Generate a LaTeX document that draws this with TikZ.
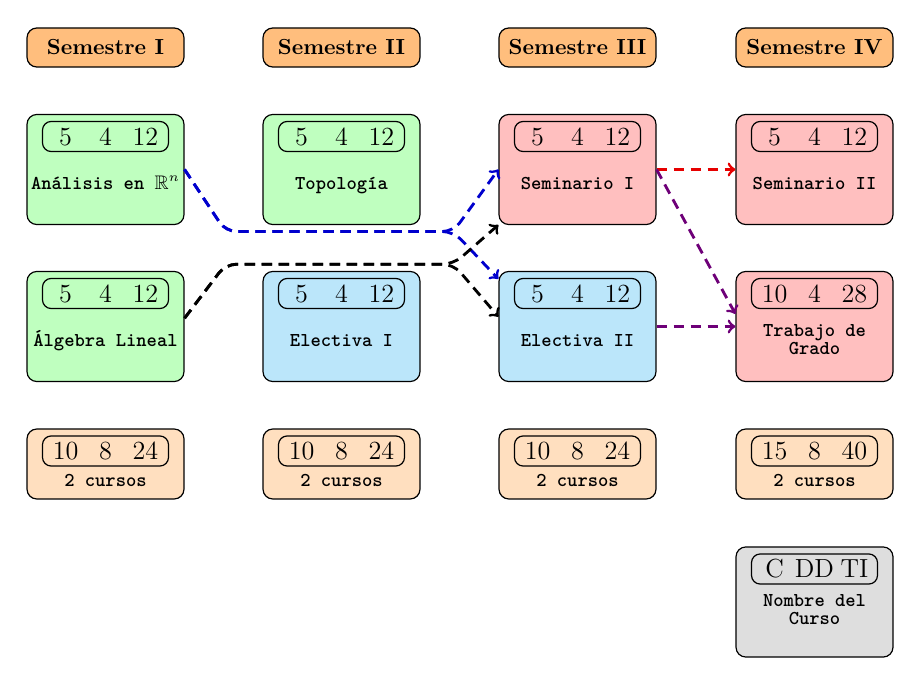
\documentclass[tikz,border=0pt]{standalone}
\usepackage{amssymb}
\usetikzlibrary{calc}
\definecolor{hdr}{RGB}{255,190,125}
\definecolor{grn}{RGB}{191,255,191}
\definecolor{pnk}{RGB}{255,191,191}
\definecolor{blu}{RGB}{187,230,250}
\definecolor{pch}{RGB}{255,223,191}
\definecolor{gry}{RGB}{222,222,222}
\definecolor{arrblue}{RGB}{0,0,205}
\definecolor{arrred}{RGB}{230,0,0}
\definecolor{arrpurple}{RGB}{110,0,120}
\newcommand\trio[3]{\makebox[18.3pt]{#1}\makebox[18.3pt]{#2}\makebox[18.3pt]{#3}}
\begin{document}
\begin{tikzpicture}[x=0.4587pt,y=-0.4587pt,
  box/.style={draw, line width=0.55pt, rounded corners=4.5pt, minimum width=72pt, inner sep=0pt},
  header/.style={box, fill=hdr, minimum height=17.9pt, font=\bfseries},
  course/.style={box, minimum height=50.5pt},
  credit/.style={box, fill=pch, minimum height=32.1pt},
  nums/.style={draw, line width=0.55pt, rounded corners=4pt, minimum width=57.8pt, minimum height=13.8pt, inner sep=0pt, font=\large},
  lbl/.style={font=\small\ttfamily\bfseries, align=center, inner sep=0pt},
  link/.style={->, line width=1.3pt, dash pattern=on 4.8pt off 3pt, rounded corners=5pt}]
\useasboundingbox (0,0) rectangle (921,679);

% headers
\node[header] (h1) at (105.5,47.5) {Semestre I};
\node[header] (h2) at (341.5,47.5) {Semestre II};
\node[header] (h3) at (577.5,47.5) {Semestre III};
\node[header] (h4) at (814.5,47.5) {Semestre IV};

% row 1
\node[course, fill=grn] (an) at (105.5,169.5) {};
\node[nums] (an-n) at ($(an.center)+(0,-33)$) {\trio{5}{4}{12}};
\node[lbl, anchor=mid] (an-t) at ($(an.center)+(0,15.5)$) {Análisis en $\mathbb{R}^n$};

\node[course, fill=grn] (to) at (341.5,169.5) {};
\node[nums] (to-n) at ($(to.center)+(0,-33)$) {\trio{5}{4}{12}};
\node[lbl, anchor=mid] (to-t) at ($(to.center)+(0,15.5)$) {Topología};

\node[course, fill=pnk] (s1) at (577.5,169.5) {};
\node[nums] (s1-n) at ($(s1.center)+(0,-33)$) {\trio{5}{4}{12}};
\node[lbl, anchor=mid] (s1-t) at ($(s1.center)+(0,15.5)$) {Seminario I};

\node[course, fill=pnk] (s2) at (814.5,169.5) {};
\node[nums] (s2-n) at ($(s2.center)+(0,-33)$) {\trio{5}{4}{12}};
\node[lbl, anchor=mid] (s2-t) at ($(s2.center)+(0,15.5)$) {Seminario II};

% row 2
\node[course, fill=grn] (al) at (105.5,326.5) {};
\node[nums] (al-n) at ($(al.center)+(0,-33)$) {\trio{5}{4}{12}};
\node[lbl, anchor=mid] (al-t) at ($(al.center)+(0,15.5)$) {Álgebra Lineal};

\node[course, fill=blu] (e1) at (341.5,326.5) {};
\node[nums] (e1-n) at ($(e1.center)+(0,-33)$) {\trio{5}{4}{12}};
\node[lbl, anchor=mid] (e1-t) at ($(e1.center)+(0,15.5)$) {Electiva I};

\node[course, fill=blu] (e2) at (577.5,326.5) {};
\node[nums] (e2-n) at ($(e2.center)+(0,-33)$) {\trio{5}{4}{12}};
\node[lbl, anchor=mid] (e2-t) at ($(e2.center)+(0,15.5)$) {Electiva II};

\node[course, fill=pnk] (tg) at (814.5,326.5) {};
\node[nums] (tg-n) at ($(tg.center)+(0,-33)$) {\trio{10}{4}{28}};
\node[lbl] (tg-t) at ($(tg.center)+(0,13)$) {Trabajo de\\[-2.8pt]Grado};

% credits row
\node[credit] (c1) at (105.5,464) {};
\node[nums] (c1-n) at ($(c1.center)+(0,-13)$) {\trio{10}{8}{24}};
\node[lbl, anchor=mid] (c1-t) at ($(c1.center)+(0,18)$) {2 cursos};

\node[credit] (c2) at (341.5,464) {};
\node[nums] (c2-n) at ($(c2.center)+(0,-13)$) {\trio{10}{8}{24}};
\node[lbl, anchor=mid] (c2-t) at ($(c2.center)+(0,18)$) {2 cursos};

\node[credit] (c3) at (577.5,464) {};
\node[nums] (c3-n) at ($(c3.center)+(0,-13)$) {\trio{10}{8}{24}};
\node[lbl, anchor=mid] (c3-t) at ($(c3.center)+(0,18)$) {2 cursos};

\node[credit] (c4) at (814.5,464) {};
\node[nums] (c4-n) at ($(c4.center)+(0,-13)$) {\trio{15}{8}{40}};
\node[lbl, anchor=mid] (c4-t) at ($(c4.center)+(0,18)$) {2 cursos};

% legend
\node[course, fill=gry] (lg) at (814.5,602) {};
\node[nums] (lg-n) at ($(lg.center)+(0,-33)$) {\trio{C}{DD}{TI}};
\node[lbl] (lg-t) at ($(lg.center)+(0,8)$) {Nombre del\\[-2.8pt]Curso};

% connectors
\coordinate (b1) at ($(an.east)+(41,62)$);
\coordinate (b2) at ($(s1.west)+(-45,62)$);
\draw[link, arrblue] (an.east) -- (b1) -- (b2) -- (s1.west);
\draw[link, arrblue] (an.east) -- (b1) -- (b2) -- (e2.149);

\coordinate (k1) at ($(al.6)+(41,-54)$);
\coordinate (k2) at (k1 -| b2);
\draw[link, black] (al.6) -- (k1) -- (k2) -- (s1.215);
\draw[link, black] (al.6) -- (k1) -- (k2) -- (e2.173);

\draw[link, arrred] (s1.east) -- (s2.west);
\draw[link, arrpurple] (s1.east) -- (tg.171);
\draw[link, arrpurple] (e2.east) -- (tg.west);
\end{tikzpicture}
\end{document}
